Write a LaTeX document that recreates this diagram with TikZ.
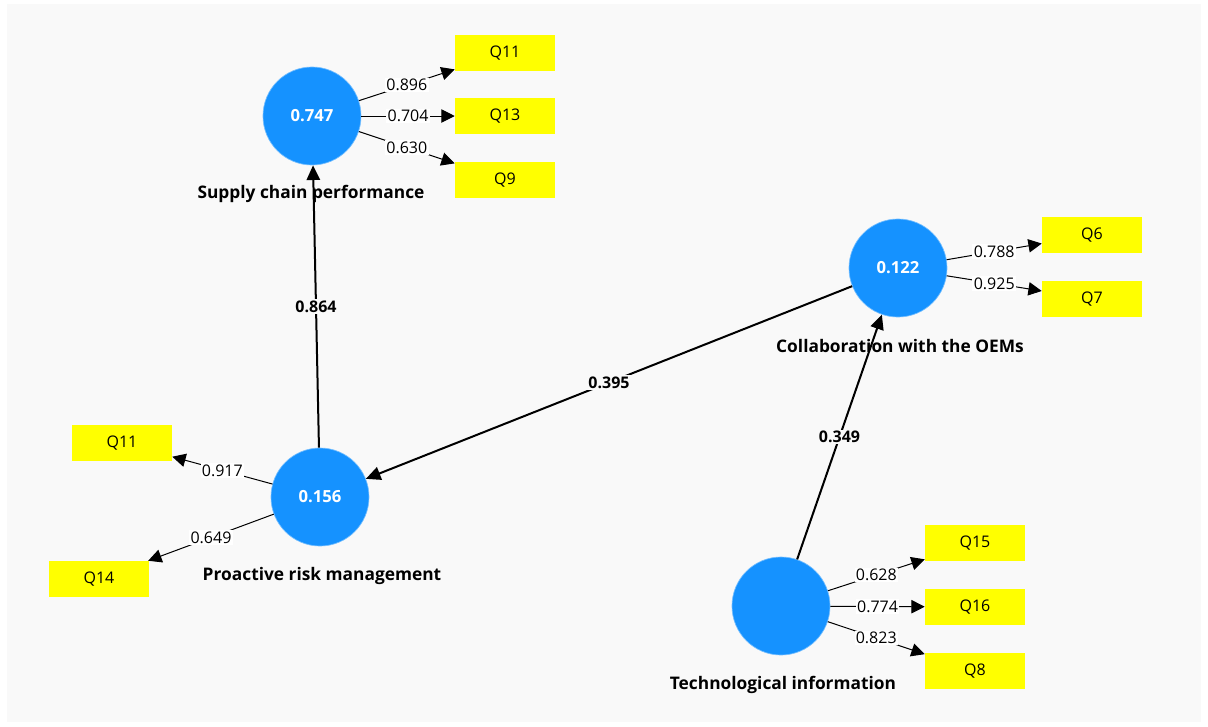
\documentclass[tikz,border=0pt]{standalone}
\usepackage{fontspec}
\setmainfont{Open Sans}
\usetikzlibrary{arrows.meta}
\definecolor{panel}{HTML}{F9F9F9}
\definecolor{lv}{HTML}{1592FF}
\definecolor{ind}{HTML}{FFFF00}
\tikzset{
  lvnode/.style={circle,fill=lv,draw=lv!60!white,line width=0.5pt,minimum size=73.5pt,inner sep=0pt,text=white,font=\fontsize{12.5}{14}\selectfont\bfseries},
  indbox/.style={rectangle,fill=ind,minimum width=75pt,minimum height=27pt,inner sep=0pt,font=\fontsize{12}{14}\selectfont},
  caption/.style={font=\fontsize{13}{15}\selectfont\bfseries,inner sep=0pt},
  loadarrow/.style={line width=0.75pt,-{Triangle[length=10pt,width=10pt]}},
  patharrow/.style={line width=1.5pt,-{Triangle[length=11pt,width=10pt]}},
  loadlbl/.style={fill=white,inner sep=1pt,font=\fontsize{12}{14}\selectfont},
  pathlbl/.style={fill=panel,inner sep=1pt,font=\fontsize{12}{14}\selectfont\bfseries}
}
\begin{document}
\begin{tikzpicture}[x=0.75pt,y=-0.75pt]
\useasboundingbox (0,0) rectangle (1208,726);
\fill[white] (0,0) rectangle (1208,726);
\fill[panel] (7,4) rectangle (1201,722);
% latent variables
\node[lvnode] (scp) at (312,116) {0.747};
\node[lvnode] (cwo) at (898,268) {0.122};
\node[lvnode] (prm) at (320,497) {0.156};
\node[lvnode] (ti) at (781,606) {};
% captions
\node[caption] (scpc) at (311,194) {Supply chain performance};
\node[caption] (cwoc) at (900,346) {Collaboration with the OEMs};
\node[caption] (prmc) at (322,576) {Proactive risk management};
\node[caption] (tic) at (783,685) {Technological information};
% indicators
\node[indbox] (q11a) at (505,53) {Q11};
\node[indbox] (q13) at (505,116) {Q13};
\node[indbox] (q9) at (505,180) {Q9};
\node[indbox] (q6) at (1092,235) {Q6};
\node[indbox] (q7) at (1092,299) {Q7};
\node[indbox] (q11b) at (122,443) {Q11};
\node[indbox] (q14) at (99,579) {Q14};
\node[indbox] (q15) at (975,543) {Q15};
\node[indbox] (q16) at (975,607) {Q16};
\node[indbox] (q8) at (975,671) {Q8};
% loadings
\draw[loadarrow] (scp) -- node[loadlbl] {0.896} (q11a);
\draw[loadarrow] (scp) -- node[loadlbl] {0.704} (q13);
\draw[loadarrow] (scp) -- node[loadlbl] {0.630} (q9);
\draw[loadarrow] (cwo) -- node[loadlbl] {0.788} (q6);
\draw[loadarrow] (cwo) -- node[loadlbl] {0.925} (q7);
\draw[loadarrow] (prm) -- node[loadlbl] {0.917} (q11b);
\draw[loadarrow] (prm) -- node[loadlbl] {0.649} (q14);
\draw[loadarrow] (ti) -- node[loadlbl] {0.628} (q15);
\draw[loadarrow] (ti) -- node[loadlbl] {0.774} (q16);
\draw[loadarrow] (ti) -- node[loadlbl] {0.823} (q8);
% paths
\draw[patharrow] (prm) -- node[pathlbl] {0.864} (scp);
\draw[patharrow] (cwo) -- node[pathlbl] {0.395} (prm);
\draw[patharrow] (ti) -- node[pathlbl] {0.349} (cwo);
\end{tikzpicture}
\end{document}
